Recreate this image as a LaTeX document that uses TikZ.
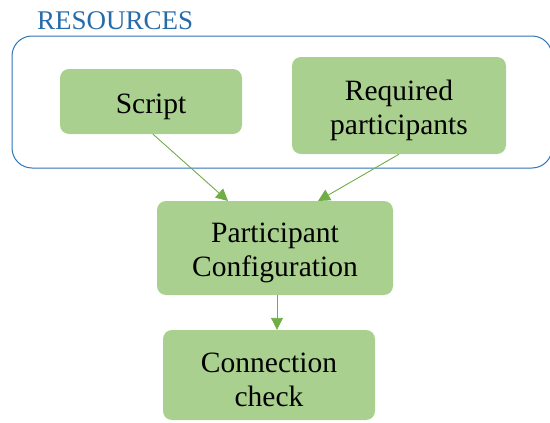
\documentclass[tikz,border=0pt]{standalone}
\usepackage{fontspec}
\setmainfont{Liberation Serif}
\usetikzlibrary{arrows.meta}
\definecolor{boxgreen}{RGB}{169,208,142}
\definecolor{arrowgreen}{RGB}{112,173,71}
\definecolor{groupblue}{RGB}{46,117,182}
\definecolor{labelblue}{RGB}{38,108,170}
\begin{document}
\begin{tikzpicture}[x=1pt,y=-1pt,
  stepbox/.style={fill=boxgreen, rounded corners=9pt, inner sep=0pt},
  steptext/.style={align=center, font=\fontsize{29.5}{34}\selectfont,
    inner sep=0pt, yshift=-5pt},
  link/.style={draw=arrowgreen, line width=0.9pt,
    -{Triangle[length=12pt,width=12pt]}}]
  \useasboundingbox (0,0) rectangle (550,423);
  % resources group
  \draw[groupblue, line width=1pt, rounded corners=20pt] (12,36) rectangle (552,168);
  \node[anchor=base west, text=labelblue, font=\fontsize{27}{30}\selectfont, inner sep=0pt]
    (reslabel) at (37,29) {RESOURCES};
  % boxes, with their text set slightly below centre
  \node[stepbox, minimum width=182pt, minimum height=65pt,
    label={[steptext]center:Script}] (script) at (151,101.5) {};
  \node[stepbox, minimum width=214pt, minimum height=97pt,
    label={[steptext]center:{Required\\participants}}] (req) at (399,105.5) {};
  \node[stepbox, minimum width=236pt, minimum height=94pt,
    label={[steptext]center:{Participant\\Configuration}}] (conf) at (275,248) {};
  \node[stepbox, minimum width=212pt, minimum height=90pt,
    label={[steptext]center:{Connection\\check}}] (conn) at (269,375) {};
  % connectors
  \coordinate (confa) at (228,201);
  \coordinate (confb) at (318,201);
  \draw[link] (script.south) ++(2,0) -- (confa);
  \draw[link] (req.south) -- (confb);
  \draw[link] (conf.south -| 277,0) -- (conn.north -| 277,0);
\end{tikzpicture}
\end{document}
